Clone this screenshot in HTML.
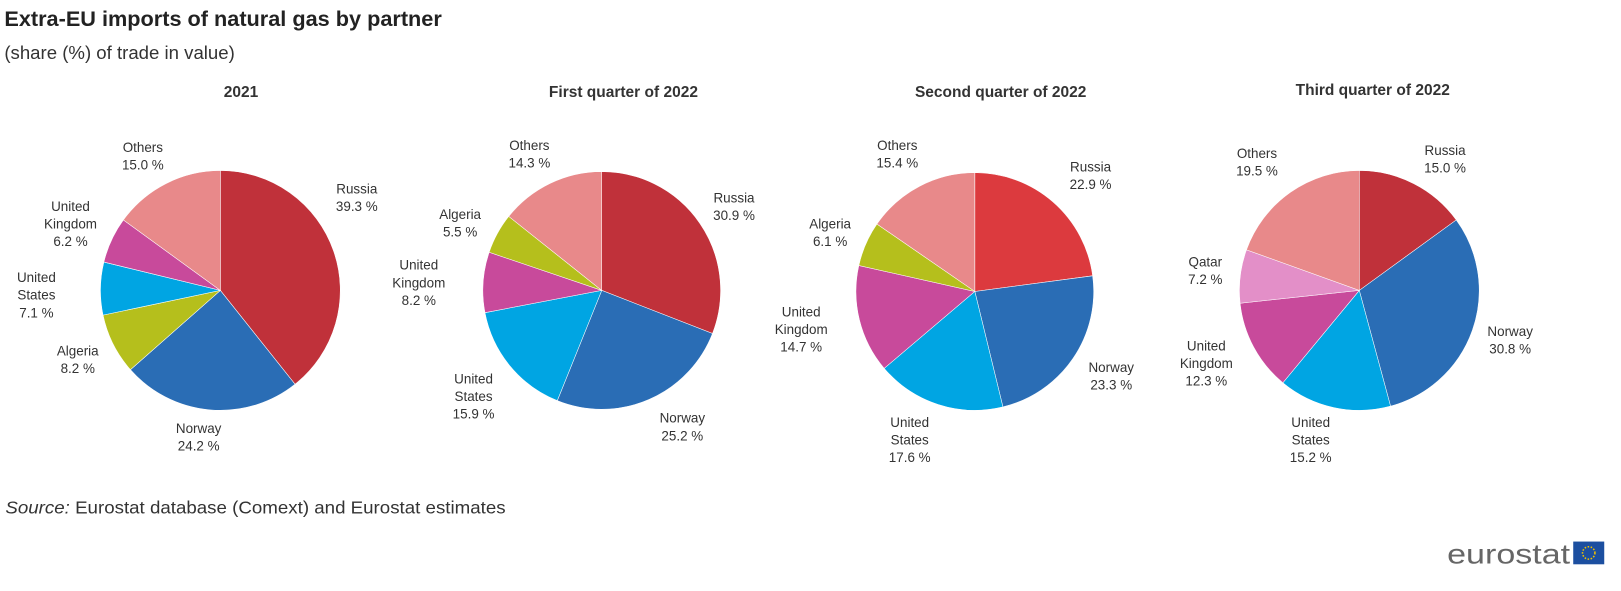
<!DOCTYPE html>
<html><head><meta charset="utf-8"><style>
body{margin:0;background:#fff;width:1621px;height:586px;overflow:hidden;font-family:"Liberation Sans",Arial,sans-serif}
</style></head><body>
<svg id="s" width="1621" height="586" viewBox="0 0 1568 567" xmlns="http://www.w3.org/2000/svg" font-family="Liberation Sans, Arial, sans-serif">
<text x="4" y="25" font-size="21" font-weight="bold" fill="#222">Extra-EU imports of natural gas by partner</text>
<text x="4" y="57" font-size="18" fill="#333">(share (%) of trade in value)</text>
<g font-size="15" font-weight="bold" fill="#333" text-anchor="middle">
<text x="233" y="94">2021</text>
<text x="603" y="94">First quarter of 2022</text>
<text x="968" y="94">Second quarter of 2022</text>
<text x="1328" y="92">Third quarter of 2022</text>
</g>
<g id="pies"></g>
<g font-size="13" fill="#333" text-anchor="middle">
<text x="138" y="147">Others</text><text x="138" y="164">15.0 %</text>
<text x="345" y="187">Russia</text><text x="345" y="204">39.3 %</text>
<text x="68" y="204">United</text><text x="68" y="221">Kingdom</text><text x="68" y="238">6.2 %</text>
<text x="35" y="273">United</text><text x="35" y="290">States</text><text x="35" y="307">7.1 %</text>
<text x="75" y="344">Algeria</text><text x="75" y="361">8.2 %</text>
<text x="192" y="419">Norway</text><text x="192" y="436">24.2 %</text>

<text x="512" y="145">Others</text><text x="512" y="162">14.3 %</text>
<text x="710" y="196">Russia</text><text x="710" y="213">30.9 %</text>
<text x="445" y="212">Algeria</text><text x="445" y="229">5.5 %</text>
<text x="405" y="261">United</text><text x="405" y="278">Kingdom</text><text x="405" y="295">8.2 %</text>
<text x="458" y="371">United</text><text x="458" y="388">States</text><text x="458" y="405">15.9 %</text>
<text x="660" y="409">Norway</text><text x="660" y="426">25.2 %</text>

<text x="868" y="145">Others</text><text x="868" y="162">15.4 %</text>
<text x="1055" y="166">Russia</text><text x="1055" y="183">22.9 %</text>
<text x="803" y="221">Algeria</text><text x="803" y="238">6.1 %</text>
<text x="775" y="306">United</text><text x="775" y="323">Kingdom</text><text x="775" y="340">14.7 %</text>
<text x="1075" y="360">Norway</text><text x="1075" y="377">23.3 %</text>
<text x="880" y="413">United</text><text x="880" y="430">States</text><text x="880" y="447">17.6 %</text>

<text x="1216" y="153">Others</text><text x="1216" y="170">19.5 %</text>
<text x="1398" y="150">Russia</text><text x="1398" y="167">15.0 %</text>
<text x="1166" y="258">Qatar</text><text x="1166" y="275">7.2 %</text>
<text x="1461" y="325">Norway</text><text x="1461" y="342">30.8 %</text>
<text x="1167" y="339">United</text><text x="1167" y="356">Kingdom</text><text x="1167" y="373">12.3 %</text>
<text x="1268" y="413">United</text><text x="1268" y="430">States</text><text x="1268" y="447">15.2 %</text>
</g>
<text x="5" y="497" font-size="17" fill="#333" textLength="484" lengthAdjust="spacingAndGlyphs"><tspan font-style="italic">Source:</tspan> Eurostat database (Comext) and Eurostat estimates</text>
<text x="1400" y="545" font-size="27" fill="#666" textLength="119" lengthAdjust="spacingAndGlyphs">eurostat</text>
<rect x="1522" y="524" width="30" height="22" fill="#1c4fa0"/>
<circle cx="1537" cy="535" r="6" fill="none" stroke="#f0c000" stroke-width="1.5" stroke-dasharray="1.5 1.5"/>
</svg>
<script>
var R='#c0313a',N='#2a6db5',U='#00a5e3',A='#b5bf1c',K='#c84a9b',O='#e8898a',Q='#e38fc8';
var pies=[
 [213,281,116,[[39.3,R],[24.2,N],[8.2,A],[7.1,U],[6.2,K],[15.0,O]]],
 [582,281,115,[[30.9,R],[25.2,N],[15.9,U],[8.2,K],[5.5,A],[14.3,O]]],
 [943,282,115,[[22.9,'#dc3a3e'],[23.3,N],[17.6,U],[14.7,K],[6.1,A],[15.4,O]]],
 [1315,281,116,[[15.0,R],[30.8,N],[15.2,U],[12.3,K],[7.2,Q],[19.5,O]]]
];
var g=document.getElementById('pies'),h='';
pies.forEach(function(p){
 var cx=p[0],cy=p[1],r=p[2],tot=0;p[3].forEach(function(s){tot+=s[0]});
 var a=0;
 p[3].forEach(function(s){
  var a0=a/tot*2*Math.PI,a1=(a+s[0])/tot*2*Math.PI;a+=s[0];
  var x0=cx+r*Math.sin(a0),y0=cy-r*Math.cos(a0),x1=cx+r*Math.sin(a1),y1=cy-r*Math.cos(a1);
  h+='<path d="M'+cx+' '+cy+'L'+x0+' '+y0+'A'+r+' '+r+' 0 '+((a1-a0)>Math.PI?1:0)+' 1 '+x1+' '+y1+'Z" fill="'+s[1]+'" stroke="#fff" stroke-width="0.5"/>';
 });
});
g.innerHTML=h;
</script>
</body></html>
